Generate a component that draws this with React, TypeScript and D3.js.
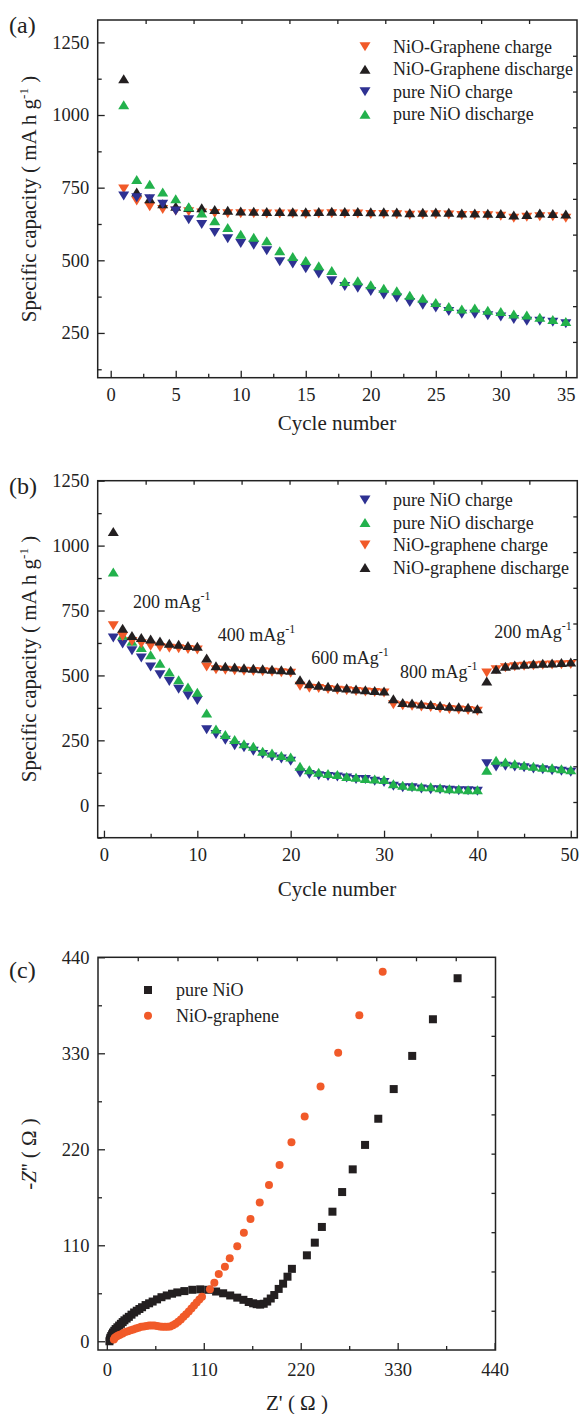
import { useEffect, useRef } from "react";
import * as d3 from "d3";

const FONT = "'Liberation Serif', 'Times New Roman', serif";
const W = 579;
const H = 1414;

// (a) cycling at constant rate
const cyclesA = d3.range(1, 36);
const grapheneChargeA = [745, 704, 684, 675, 670, 667, 663, 661, 660, 660, 660, 659, 659, 659, 658, 659, 660, 659, 659, 658, 658, 657, 655, 656, 657, 656, 654, 654, 653, 652, 645, 648, 650, 650, 645];
const grapheneDischargeA = [1125, 735, 712, 695, 686, 682, 681, 675, 672, 670, 669, 668, 668, 667, 667, 668, 669, 668, 668, 667, 667, 666, 664, 665, 666, 665, 663, 663, 662, 661, 656, 658, 663, 661, 659];
const pureChargeA = [721, 715, 712, 693, 670, 640, 623, 596, 574, 558, 552, 533, 495, 487, 471, 453, 430, 410, 404, 393, 381, 370, 355, 345, 336, 324, 314, 314, 309, 305, 296, 290, 290, 287, 282];
const pureDischargeA = [1035, 778, 762, 735, 712, 684, 663, 636, 613, 590, 579, 567, 533, 513, 499, 481, 465, 427, 430, 416, 404, 395, 380, 369, 355, 341, 332, 336, 328, 324, 315, 312, 304, 296, 289];

// (b) rate capability
const cyclesB = d3.range(1, 51);
const pureChargeB = [644, 621, 595, 567, 532, 503, 477, 447, 422, 403, 291, 272, 250, 229, 221, 208, 195, 186, 178, 169, 124, 118, 114, 111, 109, 105, 99, 99, 92, 88, 73, 67, 67, 63, 60, 60, 58, 56, 56, 54, 160, 147, 150, 147, 144, 140, 137, 133, 131, 127];
const pureDischargeB = [898, 655, 632, 608, 580, 547, 513, 483, 455, 435, 355, 294, 272, 253, 237, 227, 208, 201, 192, 186, 150, 137, 127, 122, 118, 111, 108, 103, 101, 99, 83, 77, 73, 71, 71, 67, 64, 63, 60, 60, 135, 173, 167, 160, 154, 150, 146, 144, 141, 137];
const grapheneChargeB = [691, 650, 631, 622, 612, 608, 605, 603, 600, 598, 532, 522, 520, 518, 516, 515, 514, 512, 510, 508, 458, 451, 450, 446, 443, 441, 438, 436, 434, 432, 387, 383, 381, 378, 376, 372, 369, 367, 365, 362, 509, 522, 530, 533, 535, 537, 539, 540, 541, 542];
const grapheneDischargeB = [1054, 682, 654, 646, 640, 633, 624, 620, 615, 612, 567, 537, 535, 532, 530, 528, 526, 524, 522, 520, 483, 468, 462, 458, 454, 452, 448, 445, 442, 440, 410, 396, 394, 390, 388, 384, 381, 379, 377, 372, 479, 524, 535, 540, 543, 545, 547, 548, 550, 552];
const rateLabels = ["200", "400", "600", "800", "200"];
const rateLabelCycle = [3.1, 12.2, 22.2, 31.7, 41.8];
const rateLabelValue = [760, 633, 545, 491, 645];

// (c) Nyquist plots
const pureZre = [3, 3.5, 4, 5, 6, 7, 8.5, 10, 12, 14, 16, 18, 20, 22.5, 25, 28, 31, 34, 37, 40, 44, 48, 52, 57, 62, 68, 74, 80, 88, 97, 106, 115, 124, 132, 140, 148, 155, 161, 166, 170, 174, 178, 182, 186, 190, 195, 200, 205, 210, 227, 236, 244, 256, 267, 279, 293, 308, 325.5, 346.5, 370, 398];
const pureZim = [0, 2, 4, 6, 8, 10, 12, 14, 16, 18, 20, 22, 24, 26, 28, 30.5, 33, 35, 37, 39, 41.5, 43.5, 45.5, 48, 50.5, 52.5, 54.5, 56, 57.5, 59, 59.5, 59, 57, 55, 52.5, 50, 47.5, 45, 43.5, 42.5, 42, 43, 45.5, 49, 53, 60, 66, 74, 83, 98.5, 113, 131, 148.5, 171, 197, 225, 255, 289, 327, 369, 416];
const grapheneZre = [8, 9, 11, 13, 15, 18, 21, 24, 27, 30, 33, 36, 39, 42, 45, 48, 51, 54, 57, 60, 63, 66, 69, 72, 75, 78, 81, 84, 87, 90, 93, 96, 99, 102, 105, 108, 117, 122, 127, 134, 139.5, 148, 155.5, 163, 173.5, 184, 196, 209.5, 224.5, 242.5, 262.5, 286.5, 313];
const grapheneZim = [2, 4, 5.5, 6.5, 7.5, 9, 10.5, 11.5, 12.5, 13.5, 14.5, 15.5, 16.5, 17, 17.5, 18, 18, 18, 17.5, 17, 16.5, 16.5, 16.5, 17, 18.5, 20, 22.5, 25, 28, 31, 34, 37.5, 41, 44.5, 48, 51, 59.6, 67, 77, 85.5, 95, 109, 124.5, 140, 159, 179, 202, 228, 257.5, 292, 330.5, 373.5, 423.5];

const ORANGE = "#f15a29";
const BLACK = "#231f20";
const BLUE = "#2e3192";
const GREEN = "#22b14c";

const TRI_UP = "M0,-4.5L5.5,4.5L-5.5,4.5Z";
const TRI_DOWN = "M0,4.5L5.5,-4.5L-5.5,-4.5Z";

type Sel = d3.Selection<any, unknown, null, undefined>;
type Lin = d3.ScaleLinear<number, number>;

function drawAxes(svg: Sel, x: Lin, y: Lin, xMajor: number[], xMinor: number[], yMajor: number[], yMinor: number[], pad: number) {
  const [x0, x1] = x.range();
  const [y0, y1] = y.range();
  const style = (g: Sel) => {
    g.select(".domain").remove();
    g.selectAll("line").attr("stroke", "#222").attr("stroke-width", 1.3);
    g.attr("font-family", FONT).attr("font-size", 18.5);
    g.selectAll("text").attr("fill", "#222");
  };
  const bottom = svg.append("g").attr("transform", `translate(0,${y0})`)
    .call(d3.axisBottom(x).tickValues(xMajor).tickSizeInner(-7).tickSizeOuter(0).tickPadding(pad).tickFormat(d3.format("d")))
    .call(style);
  // keep the last label inside the page edge
  bottom.selectAll<SVGTextElement, number>("text")
    .filter((d) => x(d) + 10 > W)
    .attr("text-anchor", "end")
    .attr("dx", W - 0.5 - x(xMajor[xMajor.length - 1]));
  svg.append("g").attr("transform", `translate(0,${y0})`)
    .call(d3.axisBottom(x).tickValues(xMinor).tickSizeInner(-4).tickSizeOuter(0).tickFormat(() => ""))
    .call(style);
  svg.append("g").attr("transform", `translate(${x0},0)`)
    .call(d3.axisLeft(y).tickValues(yMajor).tickSizeInner(-7).tickSizeOuter(0).tickPadding(8.5).tickFormat(d3.format("d")))
    .call(style);
  svg.append("g").attr("transform", `translate(${x0},0)`)
    .call(d3.axisLeft(y).tickValues(yMinor).tickSizeInner(-4).tickSizeOuter(0).tickFormat(() => ""))
    .call(style);
  // mirror axes: ten plain divisions
  const xt = d3.scaleLinear().domain([0, 10]).range([x0, x1]);
  const yt = d3.scaleLinear().domain([0, 10]).range([y0, y1]);
  svg.append("g").attr("transform", `translate(0,${y1})`)
    .call(d3.axisTop(xt).tickValues(d3.range(1, 10)).tickSizeInner(-4).tickSizeOuter(0).tickFormat(() => ""))
    .call(style);
  svg.append("g").attr("transform", `translate(${x1},0)`)
    .call(d3.axisRight(yt).tickValues(d3.range(1, 10)).tickSizeInner(-4).tickSizeOuter(0).tickFormat(() => ""))
    .call(style);
  svg.append("rect")
    .attr("x", x0).attr("y", y1).attr("width", x1 - x0).attr("height", y0 - y1)
    .attr("fill", "none").attr("stroke", "#222").attr("stroke-width", 1.5);
}

function capacityTitle(svg: Sel, cx: number, cy: number) {
  const t = svg.append("text")
    .attr("transform", `translate(${cx},${cy}) rotate(-90)`)
    .attr("text-anchor", "middle").attr("font-family", FONT).attr("font-size", 21).attr("fill", "#222");
  t.append("tspan").text("Specific capacity ( mA h g");
  t.append("tspan").attr("font-size", 13).attr("dy", -8).text("-1");
  t.append("tspan").attr("dy", 8).text(" )");
}

function plainText(svg: Sel, x: number, y: number, s: string, size: number, anchor = "start") {
  return svg.append("text").attr("x", x).attr("y", y).attr("text-anchor", anchor)
    .attr("font-family", FONT).attr("font-size", size).attr("fill", "#222").text(s);
}

function triangles(svg: Sel, x: Lin, y: Lin, xs: number[], vals: number[], color: string, up: boolean) {
  svg.append("g").selectAll("path").data(vals).join("path")
    .attr("d", up ? TRI_UP : TRI_DOWN)
    .attr("transform", (d, i) => `translate(${x(xs[i])},${y(d)})`)
    .attr("fill", color);
}

export default function App() {
  const ref = useRef<SVGSVGElement>(null);

  useEffect(() => {
    if (!ref.current) return;
    const svg = d3.select(ref.current);
    svg.selectAll("*").remove();

    // ---------- (a) ----------
    const xA = d3.scaleLinear().domain([-1, 35.86]).range([97.7, 577]);
    const yA = d3.scaleLinear().domain([96, 1327]).range([377.7, 20]);
    drawAxes(svg, xA, yA, [0, 5, 10, 15, 20, 25, 30, 35], [2.5, 7.5, 12.5, 17.5, 22.5, 27.5, 32.5],
      [250, 500, 750, 1000, 1250], [125, 375, 625, 875, 1125], 10);
    const seriesA = [
      { name: "NiO-Graphene charge", vals: grapheneChargeA, color: ORANGE, up: false },
      { name: "NiO-Graphene discharge", vals: grapheneDischargeA, color: BLACK, up: true },
      { name: "pure NiO charge", vals: pureChargeA, color: BLUE, up: false },
      { name: "pure NiO discharge", vals: pureDischargeA, color: GREEN, up: true },
    ];
    seriesA.forEach((s) => triangles(svg, xA, yA, cyclesA, s.vals, s.color, s.up));
    seriesA.forEach((s, i) => {
      const cy = 46.7 + i * 22.5;
      svg.append("path").attr("d", s.up ? TRI_UP : TRI_DOWN).attr("transform", `translate(365,${cy})`).attr("fill", s.color);
      plainText(svg, 393, cy + 6, s.name, 18);
    });
    plainText(svg, 9, 33, "(a)", 24);
    capacityTitle(svg, 36, 199);
    plainText(svg, 337, 430, "Cycle number", 21, "middle");

    // ---------- (b) ----------
    const xB = d3.scaleLinear().domain([-0.67, 50.7]).range([97.7, 577.3]);
    const yB = d3.scaleLinear().domain([-125, 1250]).range([837.7, 480.7]);
    drawAxes(svg, xB, yB, [0, 10, 20, 30, 40, 50], [5, 15, 25, 35, 45],
      [0, 250, 500, 750, 1000, 1250], [-125, 125, 375, 625, 875, 1125], 10.5);
    const seriesB = [
      { name: "pure NiO charge", vals: pureChargeB, color: BLUE, up: false },
      { name: "pure NiO discharge", vals: pureDischargeB, color: GREEN, up: true },
      { name: "NiO-graphene charge", vals: grapheneChargeB, color: ORANGE, up: false },
      { name: "NiO-graphene discharge", vals: grapheneDischargeB, color: BLACK, up: true },
    ];
    seriesB.forEach((s) => triangles(svg, xB, yB, cyclesB, s.vals, s.color, s.up));
    seriesB.forEach((s, i) => {
      const cy = 500 + i * 22.5;
      svg.append("path").attr("d", s.up ? TRI_UP : TRI_DOWN).attr("transform", `translate(365,${cy})`).attr("fill", s.color);
      plainText(svg, 393, cy + 6, s.name, 18);
    });
    rateLabels.forEach((r, i) => {
      const t = plainText(svg, xB(rateLabelCycle[i]), yB(rateLabelValue[i]), `${r} mAg`, 18);
      t.append("tspan").attr("font-size", 12).attr("dy", -8).text("-1");
    });
    plainText(svg, 9, 494, "(b)", 24);
    capacityTitle(svg, 36, 659);
    plainText(svg, 337, 896, "Cycle number", 21, "middle");

    // ---------- (c) ----------
    const xC = d3.scaleLinear().domain([-10, 441]).range([98, 495.5]);
    const yC = d3.scaleLinear().domain([-10, 440]).range([1350, 957.3]);
    drawAxes(svg, xC, yC, [0, 110, 220, 330, 440], [55, 165, 275, 385],
      [0, 110, 220, 330, 440], [55, 165, 275, 385], 13);
    svg.append("g").selectAll("rect").data(pureZim).join("rect")
      .attr("x", (d, i) => xC(pureZre[i]) - 4).attr("y", (d) => yC(d) - 4)
      .attr("width", 8).attr("height", 8).attr("fill", BLACK);
    svg.append("g").selectAll("circle").data(grapheneZim).join("circle")
      .attr("cx", (d, i) => xC(grapheneZre[i])).attr("cy", (d) => yC(d))
      .attr("r", 4).attr("fill", ORANGE);
    svg.append("rect").attr("x", 144).attr("y", 986).attr("width", 8).attr("height", 8).attr("fill", BLACK);
    plainText(svg, 176, 996, "pure NiO", 18);
    svg.append("circle").attr("cx", 148).attr("cy", 1015.7).attr("r", 4).attr("fill", ORANGE);
    plainText(svg, 176, 1021.7, "NiO-graphene", 18);
    plainText(svg, 9, 978, "(c)", 24);
    const zt = svg.append("text")
      .attr("transform", `translate(36,1154) rotate(-90)`)
      .attr("text-anchor", "middle").attr("font-family", FONT).attr("font-size", 21).attr("fill", "#222");
    zt.append("tspan").text("-");
    zt.append("tspan").attr("font-style", "italic").text("Z");
    zt.append("tspan").text("'' ( Ω )");
    plainText(svg, 297, 1410, "Z' ( Ω )", 21, "middle");
  }, []);

  return (
    <svg ref={ref} width={W} height={H}
      style={{ position: "absolute", left: 0, top: 0, background: "#fff", display: "block" }} />
  );
}
